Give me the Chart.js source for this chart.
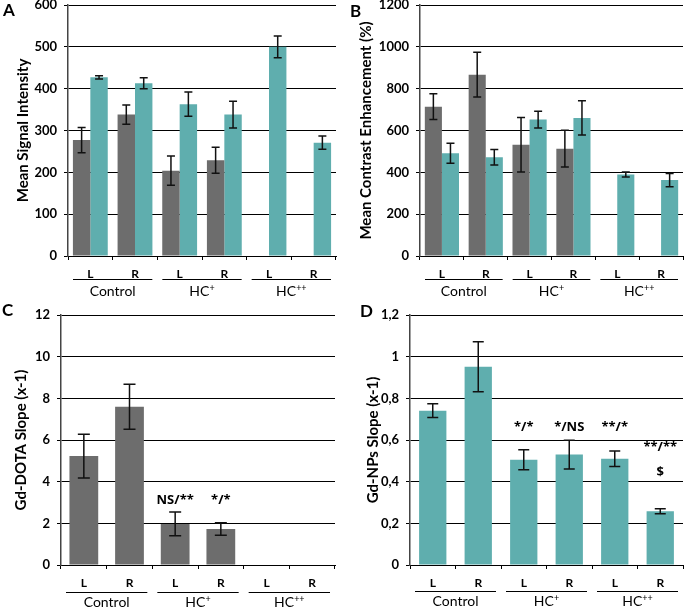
<!DOCTYPE html>
<html lang="en">
<head>
    <meta charset="UTF-8">
    <title>Mean Signal Intensity / Slopes</title>
    <script src="https://cdn.jsdelivr.net/npm/chart.js"></script>
    <style>
        body { margin: 0; background: #fff; }
        canvas { position: absolute; }
    </style>
</head>
<body>
    <canvas id="chartA" width="342" height="300" style="left:0;top:0"></canvas>
    <canvas id="chartB" width="343" height="300" style="left:342px;top:0"></canvas>
    <canvas id="chartC" width="342" height="307" style="left:0;top:300px"></canvas>
    <canvas id="chartD" width="343" height="307" style="left:342px;top:300px"></canvas>

<script>
    // categorias
    var lados = ['L', 'R', 'L', 'R', 'L', 'R'];
    var gruposBase = ['Control', 'HC', 'HC'];
    var gruposSup = ['', '+', '++'];

    // A - Mean Signal Intensity
    var cinzaA = [277, 338, 204, 229, null, null];
    var cinzaErroA = [30, 23, 35, 31, 0, 0];
    var verdeA = [427, 413, 363, 338, 500, 271];
    var verdeErroA = [4, 13, 29, 32, 26, 16];
    var ticksA = ['0', '100', '200', '300', '400', '500', '600'];

    // B - Mean Contrast Enhancement (%)
    var cinzaB = [714, 867, 532, 513, null, null];
    var cinzaErroB = [62, 107, 130, 88, 0, 0];
    var verdeB = [491, 472, 652, 660, 390, 363];
    var verdeErroB = [48, 37, 40, 82, 12, 32];
    var ticksB = ['0', '200', '400', '600', '800', '1000', '1200'];

    // C - Gd-DOTA slope
    var cinzaC = [5.23, 7.6, 1.97, 1.73, null, null];
    var cinzaErroC = [1.05, 1.08, 0.57, 0.3, 0, 0];
    var ticksC = ['0', '2', '4', '6', '8', '10', '12'];
    var notasC = [
        { idx: 2, texto: 'NS/**', valor: 3.1 },
        { idx: 3, texto: '*/*', valor: 3.1 }
    ];

    // D - Gd-NPs slope
    var verdeD = [0.741, 0.952, 0.505, 0.530, 0.510, 0.258];
    var verdeErroD = [0.033, 0.12, 0.048, 0.069, 0.037, 0.012];
    var ticksD = ['0', '0,2', '0,4', '0,6', '0,8', '1', '1,2'];
    var notasD = [
        { idx: 2, texto: '*/*', valor: 0.66 },
        { idx: 3, texto: '*/NS', valor: 0.66 },
        { idx: 4, texto: '**/*', valor: 0.66 },
        { idx: 5, texto: '**/**', valor: 0.565 },
        { idx: 5, texto: '$', valor: 0.445 }
    ];

    var fonte = 'Lato, "Open Sans", sans-serif';
    var fonteNotas = '"Open Sans", Lato, sans-serif';
    var corCinza = '#6d6d6d';
    var corVerde = '#5faeae';

    var extras = {
        id: 'extras',
        afterDatasetsDraw: function (chart, args, opts) {
            var ctx = chart.ctx;
            var y = chart.scales.y;
            ctx.save();
            ctx.strokeStyle = '#111';
            ctx.lineWidth = 1.5;
            chart.data.datasets.forEach(function (ds, d) {
                var meta = chart.getDatasetMeta(d);
                meta.data.forEach(function (bar, i) {
                    var v = ds.data[i];
                    var e = ds.erros[i];
                    if (v == null || !e) return;
                    var topo = y.getPixelForValue(v + e);
                    var base = y.getPixelForValue(v - e);
                    var c = opts.cap / 2;
                    ctx.beginPath();
                    ctx.moveTo(bar.x, topo); ctx.lineTo(bar.x, base);
                    ctx.moveTo(bar.x - c, topo); ctx.lineTo(bar.x + c, topo);
                    ctx.moveTo(bar.x - c, base); ctx.lineTo(bar.x + c, base);
                    ctx.stroke();
                });
            });
            ctx.restore();
        },
        afterDraw: function (chart, args, opts) {
            var ctx = chart.ctx;
            var x = chart.scales.x;
            var y = chart.scales.y;
            var area = chart.chartArea;
            var w = (area.right - area.left) / lados.length;
            ctx.save();
            ctx.fillStyle = '#000';
            ctx.strokeStyle = '#000';
            ctx.lineWidth = 1;

            // grupos
            gruposBase.forEach(function (nome, k) {
                var x0 = area.left + 2 * k * w + 5;
                var x1 = area.left + (2 * k + 2) * w - 5;
                var ly = Math.round(area.bottom + opts.linhaOff) + 0.5;
                ctx.beginPath();
                ctx.moveTo(x0, ly); ctx.lineTo(x1, ly);
                ctx.stroke();

                var fb = '14px ' + fonte;
                var fs = '9px ' + fonte;
                ctx.font = fb;
                var wb = ctx.measureText(nome).width;
                ctx.font = fs;
                var ws = gruposSup[k] ? ctx.measureText(gruposSup[k]).width : 0;
                var cx = (x0 + x1) / 2 - (wb + ws) / 2;
                var by = area.bottom + opts.grupoOff + 5;
                ctx.textAlign = 'left';
                ctx.textBaseline = 'alphabetic';
                ctx.font = fb;
                ctx.fillText(nome, cx, by);
                if (gruposSup[k]) {
                    ctx.font = fs;
                    ctx.fillText(gruposSup[k], cx + wb, by - 5);
                }
            });

            // notas de significancia
            (opts.notas || []).forEach(function (n) {
                ctx.font = 'bold 13px ' + fonteNotas;
                ctx.textAlign = 'center';
                ctx.textBaseline = 'middle';
                ctx.fillText(n.texto, x.getPixelForValue(n.idx), y.getPixelForValue(n.valor));
            });

            // letra do painel
            ctx.font = 'bold 17px ' + fonte;
            ctx.textAlign = 'left';
            ctx.textBaseline = 'top';
            ctx.fillText(opts.letra, opts.letraX, opts.letraY);
            ctx.restore();
        }
    };

    function criarPainel(id, p) {
        var ctx = document.getElementById(id).getContext('2d');
        var config = {
            type: 'bar',
            data: { labels: lados, datasets: p.datasets },
            options: {
                responsive: false,
                animation: false,
                layout: { padding: { left: 0, right: p.padDir, top: p.padTopo, bottom: 0 } },
                datasets: { bar: { categoryPercentage: p.catPct, barPercentage: 1 } },
                plugins: {
                    legend: { display: false },
                    tooltip: { enabled: false },
                    extras: {
                        cap: p.cap,
                        notas: p.notas,
                        letra: p.letra, letraX: p.letraX, letraY: p.letraY,
                        linhaOff: p.linhaOff, grupoOff: p.grupoOff
                    }
                },
                scales: {
                    x: {
                        grid: { display: true, drawOnChartArea: false, drawTicks: true, tickLength: 4, color: '#000', offset: true },
                        border: { display: true, color: '#000', width: 1 },
                        ticks: {
                            font: { family: fonte, size: 12, weight: 'bold' },
                            color: '#000', padding: p.ladoPad, maxRotation: 0, autoSkip: false
                        },
                        afterFit: function (s) { s.height = p.alturaX; s.paddingLeft = 0; s.paddingRight = 0; }
                    },
                    y: {
                        min: 0, max: p.max,
                        ticks: {
                            stepSize: p.passo,
                            font: { family: fonte, size: 13, weight: 'bold' },
                            color: '#000', padding: 7,
                            callback: function (v, i) { return p.ticks[i]; }
                        },
                        grid: { color: '#000', lineWidth: 1, tickLength: 4 },
                        border: { color: '#444', width: 1.5 },
                        title: {
                            display: true, text: p.titulo, color: '#000',
                            font: { family: fonte, size: 15, weight: 'bold' },
                            padding: { top: p.tituloX - 9, bottom: 0 }
                        },
                        afterFit: function (s) { s.width = p.larguraY; s.paddingTop = 0; s.paddingBottom = 0; }
                    }
                }
            },
            plugins: [extras]
        };
        return new Chart(ctx, config);
    }

    criarPainel('chartA', {
        datasets: [
            { data: cinzaA, erros: cinzaErroA, backgroundColor: corCinza },
            { data: verdeA, erros: verdeErroA, backgroundColor: corVerde }
        ],
        max: 600, passo: 100, ticks: ticksA, titulo: 'Mean Signal Intensity',
        larguraY: 68, padDir: 6, padTopo: 5, alturaX: 44, catPct: 0.78, cap: 8,
        ladoPad: 7, linhaOff: 23, grupoOff: 35, tituloX: 23,
        letra: 'A', letraX: 3, letraY: 2
    });

    criarPainel('chartB', {
        datasets: [
            { data: cinzaB, erros: cinzaErroB, backgroundColor: corCinza },
            { data: verdeB, erros: verdeErroB, backgroundColor: corVerde }
        ],
        max: 1200, passo: 200, ticks: ticksB, titulo: 'Mean Contrast Enhancement (%)',
        larguraY: 78, padDir: 2, padTopo: 5, alturaX: 44, catPct: 0.78, cap: 8,
        ladoPad: 7, linhaOff: 23, grupoOff: 35, tituloX: 24,
        letra: 'B', letraX: 8, letraY: 3
    });

    criarPainel('chartC', {
        datasets: [
            { data: cinzaC, erros: cinzaErroC, backgroundColor: corCinza }
        ],
        max: 12, passo: 2, ticks: ticksC, titulo: 'Gd-DOTA Slope (x-1)',
        larguraY: 61, padDir: 7, padTopo: 15, alturaX: 42, catPct: 0.63, cap: 12,
        ladoPad: 7, linhaOff: 27, grupoOff: 37, tituloX: 21,
        letra: 'C', letraX: 2, letraY: 2,
        notas: notasC
    });

    criarPainel('chartD', {
        datasets: [
            { data: verdeD, erros: verdeErroD, backgroundColor: corVerde }
        ],
        max: 1.2, passo: 0.2, ticks: ticksD, titulo: 'Gd-NPs Slope (x-1)',
        larguraY: 68, padDir: 2, padTopo: 15, alturaX: 42, catPct: 0.6, cap: 11,
        ladoPad: 7, linhaOff: 26, grupoOff: 36, tituloX: 31,
        letra: 'D', letraX: 18, letraY: 3,
        notas: notasD
    });
</script>
</body>
</html>
